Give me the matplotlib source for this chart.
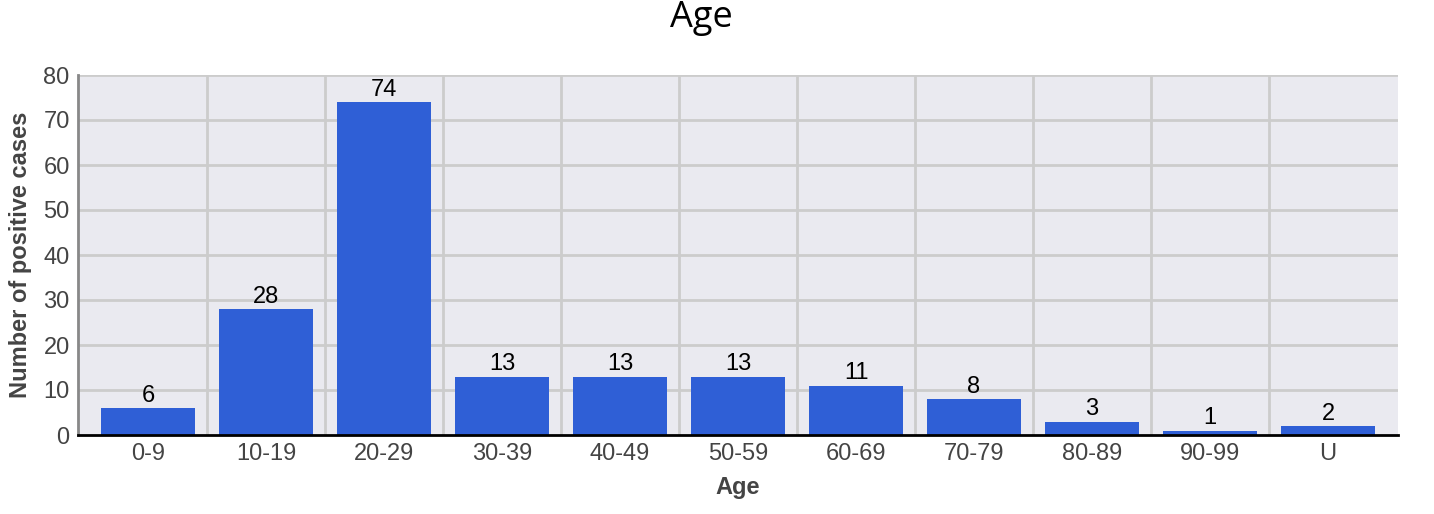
import matplotlib

matplotlib.use("Agg")
import matplotlib.pyplot as plt

# data
age_groups = ["0-9", "10-19", "20-29", "30-39", "40-49", "50-59",
              "60-69", "70-79", "80-89", "90-99", "U"]
positive_cases = [6, 28, 74, 13, 13, 13, 11, 8, 3, 1, 2]
y_ticks = [0, 10, 20, 30, 40, 50, 60, 70, 80]

W, H = 1434, 514
fig = plt.figure(figsize=(W / 100, H / 100), dpi=100)
ax = fig.add_axes([78 / W, (H - 435) / H, 1320 / W, 360 / H])
ax.set_facecolor("#eaeaf0")

xs = list(range(len(age_groups)))
bars = ax.bar(xs, positive_cases, width=0.8, color="#2f5fd6", zorder=3)

for x, v in zip(xs, positive_cases):
    ax.annotate(str(v), (x, v), xytext=(0, 1), textcoords="offset points",
                ha="center", va="bottom", fontsize=17,
                family="Liberation Sans", color="black", zorder=4)

pad = 11 / 118
ax.set_xlim(-0.5 - pad, len(age_groups) - 0.5 + pad)
ax.set_ylim(0, 80)
ax.set_yticks(y_ticks)
ax.set_xticks(xs)
ax.set_xticklabels(age_groups)

# gridlines: horizontal at ticks, vertical between categories
for y in y_ticks[1:]:
    ax.axhline(y, color="#cccccc", lw=2, zorder=1)
for b in range(len(age_groups) - 1):
    ax.axvline(b + 0.5, color="#cccccc", lw=2, zorder=1)

for side in ["top", "right"]:
    ax.spines[side].set_visible(False)
ax.spines["left"].set_color("#888888")
ax.spines["left"].set_linewidth(2)
ax.spines["bottom"].set_color("black")
ax.spines["bottom"].set_linewidth(2)
ax.spines["bottom"].set_zorder(5)

ax.tick_params(length=0, labelsize=17, labelcolor="#444444", pad=6)
for lbl in ax.get_xticklabels() + ax.get_yticklabels():
    lbl.set_family("Liberation Sans")

ax.set_xlabel("Age", fontsize=17, fontweight="bold", color="#444444",
              family="Liberation Sans", labelpad=8)
ax.set_ylabel("Number of positive cases", fontsize=17, fontweight="bold",
              color="#444444", family="Liberation Sans", labelpad=8)

fig.text(701 / W, 1 - 18 / H, "Age", ha="center", va="center",
         fontsize=26, family="Open Sans", color="black")

fig.savefig("out.png", dpi=100)
